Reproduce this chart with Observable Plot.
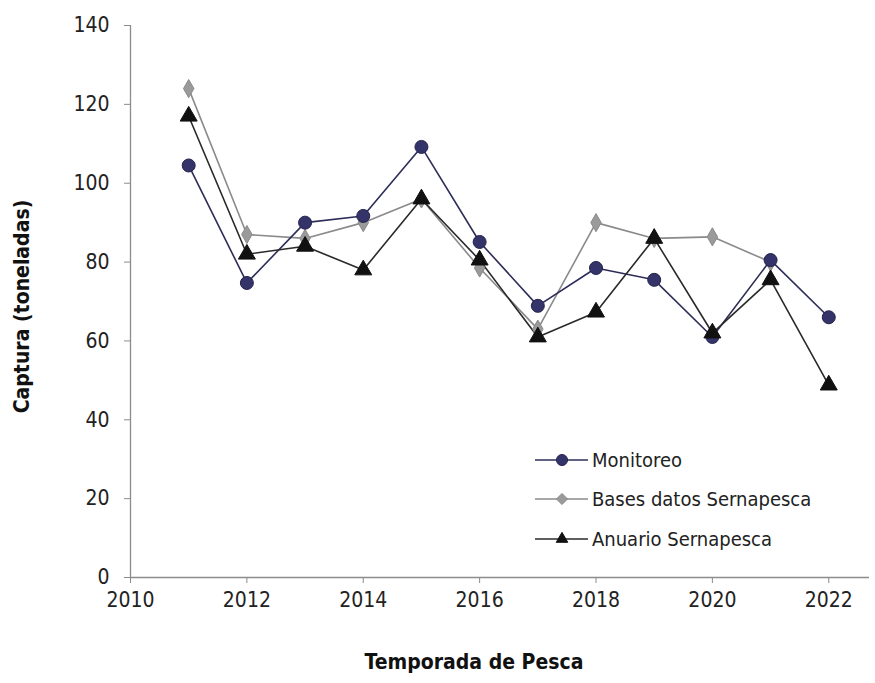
<!DOCTYPE html>
<html><head><meta charset="utf-8">
<script src="https://cdn.jsdelivr.net/npm/d3@7"></script>
<script src="https://cdn.jsdelivr.net/npm/@observablehq/plot@0.6"></script>
<style>
body{margin:0;background:#fff}
#wrap{position:relative;width:875px;height:683px;font-family:"Liberation Sans Narrow","Arial Narrow","DejaVu Sans Condensed",sans-serif;color:#222}
#legend{position:absolute;left:533px;top:440px}
.row{display:flex;align-items:center;height:39.5px;font-size:20px;white-space:nowrap}
.row svg{margin-right:4px}
</style>
</head><body><div id="wrap"></div>
<script>
const years = [2011, 2012, 2013, 2014, 2015, 2016, 2017, 2018, 2019, 2020, 2021, 2022];
const monitoreo = [104.5, 74.7, 90, 91.7, 109.2, 85.1, 68.9, 78.5, 75.5, 61, 80.5, 66];
const basesDatos = [124, 87, 86, 90, 96, 78.5, 63, 90, 86, 86.4, 80, null];
const anuario = [117, 82, 84, 78, 96, 80.5, 61, 67.3, 86, 62, 75.5, 48.8];
const seriesNames = ["Monitoreo", "Bases datos Sernapesca", "Anuario Sernapesca"];
const xTicks = [2010, 2012, 2014, 2016, 2018, 2020, 2022];
const yTicks = [0, 20, 40, 60, 80, 100, 120, 140];

const styles = {
  "Monitoreo": {line: "#2d2d58", fill: "#34346a", stroke: "#22224a", symbol: "circle", r: 6.5, lr: 5.5},
  "Bases datos Sernapesca": {line: "#8a8a8a", fill: "#9a9a9a", stroke: "#8a8a8a", symbol: "diamond", r: 5.5, lr: 5},
  "Anuario Sernapesca": {line: "#2a2a2a", fill: "#111", stroke: "#111", symbol: "triangle", r: 6.3, lr: 5.5}
};
const valuesBy = {"Monitoreo": monitoreo, "Bases datos Sernapesca": basesDatos, "Anuario Sernapesca": anuario};
const drawOrder = ["Bases datos Sernapesca", "Monitoreo", "Anuario Sernapesca"];
const rows = s => years.map((y, i) => ({year: y, value: valuesBy[s][i]})).filter(d => d.value != null);

const font = '"Liberation Sans Narrow","Arial Narrow","DejaVu Sans Condensed",sans-serif';

const marks = [
  Plot.ruleX([2010], {stroke: "#8c8c8c", strokeWidth: 1.3}),
  Plot.ruleY([0], {stroke: "#8c8c8c", strokeWidth: 1.3}),
  Plot.axisY({ticks: yTicks, tickSize: 6, tickPadding: 15, stroke: "#8c8c8c", fill: "#222", fontSize: 21, label: null, tickFormat: d => String(d)}),
  Plot.axisX({ticks: xTicks, tickSize: 6, tickPadding: 9, stroke: "#8c8c8c", fill: "#222", fontSize: 21, label: null, tickFormat: d => String(d)}),
  ...drawOrder.map(s => Plot.line(rows(s), {x: "year", y: "value", stroke: styles[s].line, strokeWidth: 1.6})),
  ...drawOrder.map(s => Plot.dot(rows(s), {x: "year", y: "value", symbol: () => styles[s].symbol, r: styles[s].r, fill: styles[s].fill, stroke: styles[s].stroke, strokeWidth: 1})),
  Plot.text(["Captura (toneladas)"], {frameAnchor: "left", textAnchor: "middle", rotate: -90, dx: -108, dy: 5, fontWeight: "bold", fontSize: 21, fill: "#111"}),
  Plot.text(["Temporada de Pesca"], {frameAnchor: "bottom", textAnchor: "middle", dx: -26, dy: 91, fontWeight: "bold", fontSize: 21, fill: "#111"})
];

const chart = Plot.plot({
  width: 875, height: 683,
  marginLeft: 130, marginRight: 6, marginTop: 25, marginBottom: 106,
  x: {domain: [2010, 2022.7]},
  y: {domain: [0, 140]},
  symbol: {type: "identity"},
  style: {fontFamily: font, background: "#fff"},
  marks
});
const wrap = document.getElementById("wrap");
wrap.appendChild(chart);

// legend overlay
const legend = document.createElement("div");
legend.id = "legend";
seriesNames.forEach(s => {
  const st = styles[s];
  const row = document.createElement("div");
  row.className = "row";
  const sym = d3.symbol(st.symbol === "circle" ? d3.symbolCircle : st.symbol === "diamond" ? d3.symbolDiamond2 : d3.symbolTriangle2, Math.PI * st.lr * st.lr)();
  row.innerHTML = `<svg width="55" height="20"><line x1="2" x2="55" y1="10" y2="10" stroke="${st.line}" stroke-width="1.6"/><path d="${sym}" transform="translate(29,10)" fill="${st.fill}" stroke="${st.stroke}"/></svg><span>${s}</span>`;
  legend.appendChild(row);
});
wrap.appendChild(legend);
</script></body></html>
